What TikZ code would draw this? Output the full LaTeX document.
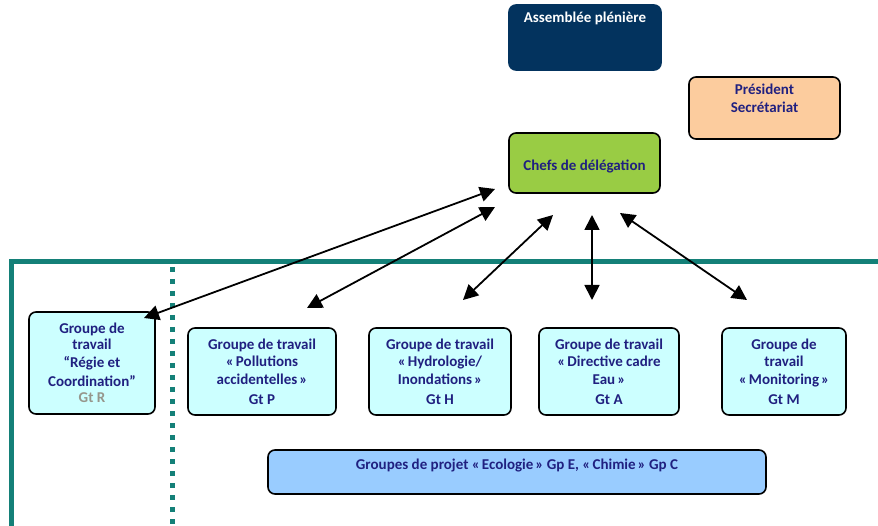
\documentclass[tikz,border=0pt]{standalone}
\usepackage{fontspec}
\setmainfont{Carlito}
\usetikzlibrary{arrows.meta}
\definecolor{navy}{RGB}{3,51,94}
\definecolor{txtblue}{RGB}{32,32,128}
\definecolor{peach}{RGB}{252,204,158}
\definecolor{lgreen}{RGB}{153,204,68}
\definecolor{teal2}{RGB}{20,128,120}
\definecolor{cyanbox}{RGB}{204,255,255}
\definecolor{projblue}{RGB}{153,204,255}
\definecolor{gtgray}{RGB}{150,150,140}
\begin{document}
\begin{tikzpicture}[x=1pt,y=-1pt,
  box/.style={draw=black, line width=1.6pt, rounded corners=7pt, inner sep=0pt},
  lbl/.style={font=\bfseries\fontsize{15}{18}\selectfont, text=txtblue, align=center, inner sep=0pt},
  gtbox/.style={box, fill=cyanbox, lbl, minimum height=87pt},
  conn/.style={line width=1.8pt, {Triangle[length=15pt,width=15pt]}-{Triangle[length=15pt,width=15pt]}},
  frameline/.style={teal2, line width=5pt},
]
\useasboundingbox (0,0) rectangle (878,526);

% teal frame and dotted separator
\draw[frameline] (11,526) -- (11,262) -- (878,262);
\draw[teal2, line width=5pt, dash pattern=on 5pt off 7pt] (172,267) -- (172,526);

% top boxes
\node[box, fill=navy, draw=navy, minimum width=152pt, minimum height=65pt] (ap) at (585,37.5) {};
\node[lbl, text=white, anchor=north] (apt) at ([yshift=-8pt]ap.north) {Assemblée plénière};

\node[box, fill=peach, minimum width=151pt, minimum height=62pt] (ps) at (764.5,108) {};
\node[lbl, anchor=north] (pst) at ([yshift=-8pt]ps.north) {Président\\Secrétariat};

\node[box, fill=lgreen, minimum width=151pt, minimum height=60pt] (cd) at (584.5,163) {};
\node[lbl] (cdt) at ([yshift=-4pt]cd.center) {Chefs de délégation};

% working groups
\node[gtbox, minimum width=126pt, minimum height=102pt] (gtr) at (92,363)
  {Groupe de\\[-1.5pt]travail\\“Régie et\\[1pt]Coordination”\\[-2pt]{\color{gtgray}Gt R}};
\node[gtbox, minimum width=148pt] (gtp) at (262,371.5)
  {Groupe de travail\\[-1pt]«\kern2pt Pollutions\\accidentelles\kern2pt»\\[2pt]Gt P};
\node[gtbox, minimum width=142pt] (gth) at (440,371.5)
  {Groupe de travail\\[-1pt]«\kern2pt Hydrologie/\\Inondations\kern2pt»\\[2pt]Gt H};
\node[gtbox, minimum width=140pt] (gta) at (609,371.5)
  {Groupe de travail\\[-1pt]«\kern2pt Directive cadre\\Eau\kern2pt»\\[2pt]Gt A};
\node[gtbox, minimum width=124pt] (gtm) at (784,371.5)
  {Groupe de\\[-1pt]travail\\«\kern2pt Monitoring\kern2pt»\\[2pt]Gt M};

% project groups
\node[box, fill=projblue, minimum width=498pt, minimum height=44pt] (gp) at (517,472) {};
\node[lbl, anchor=north] (gpt) at ([yshift=-10pt]gp.north)
  {Groupes de projet «\kern2pt Ecologie\kern2pt» Gp E, «\kern2pt Chimie\kern2pt» Gp C};

% connector end points
\coordinate (r1) at (495,189);
\coordinate (r2) at (144,318);
\coordinate (p1) at (495,207);
\coordinate (p2) at (307,308);
\coordinate (h1) at (553,215);
\coordinate (h2) at (463,300);
\coordinate (a1) at (592,215);
\coordinate (a2) at (592,300);
\coordinate (m1) at (620,213);
\coordinate (m2) at (747,300);

\draw[conn] (r1) -- (r2);
\draw[conn] (p1) -- (p2);
\draw[conn] (h1) -- (h2);
\draw[conn] (a1) -- (a2);
\draw[conn] (m1) -- (m2);
\end{tikzpicture}
\end{document}
